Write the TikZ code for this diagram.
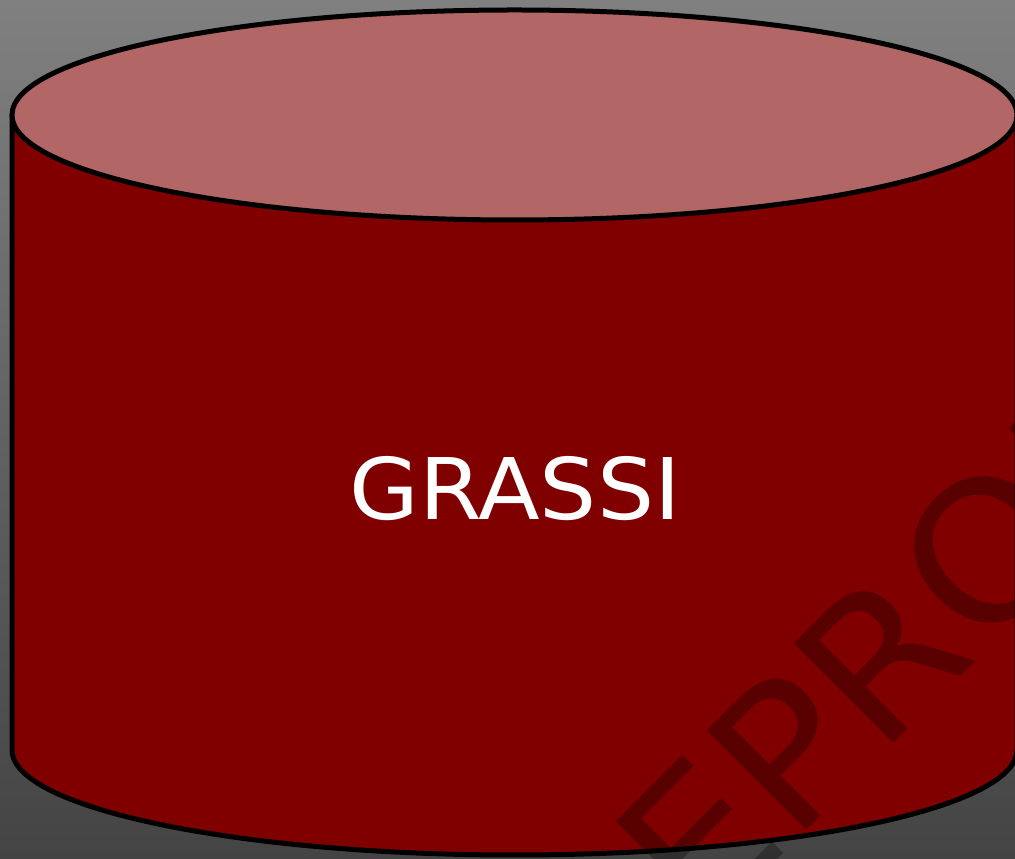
\documentclass[tikz,border=0pt]{standalone}
\usepackage{fontspec}
\newfontfamily\dejavuwide[FakeStretch=1.06]{DejaVu Sans}
\definecolor{bgtop}{RGB}{128,128,128}
\definecolor{bgbot}{RGB}{68,68,68}
\definecolor{sidecol}{RGB}{128,0,0}
\definecolor{topcol}{RGB}{179,102,102}
\tikzset{
  cylside/.style={fill=sidecol, draw=black, line width=5pt, line join=round},
  cyltop/.style={fill=topcol, draw=black, line width=5pt},
  label/.style={text=white, inner sep=0pt, font=\dejavuwide\fontsize{85}{100}\selectfont},
  watermark/.style={text=black, text opacity=0.3, inner sep=0pt, rotate=45,
    font=\dejavuwide\fontsize{193}{230}\selectfont}
}
\begin{document}
\begin{tikzpicture}[x=1pt,y=1pt]
\useasboundingbox (0,0) rectangle (1015,859);
\shade[top color=bgtop, bottom color=bgbot] (0,0) rectangle (1015,859);
% cylinder body
\path[cylside] (12,744) -- (12,109)
  arc[start angle=180, end angle=360, x radius=502.5pt, y radius=105pt]
  -- (1017,744) -- cycle;
% top ellipse
\path[cyltop] (514.5,744) ellipse[x radius=502.5pt, y radius=105pt];
\node[label, anchor=base] (grassi) at (515,339) {GRASSI};
\node[watermark, anchor=base west] (wm) at (600.5,-177.5) {REPRODUCTION};
\end{tikzpicture}
\end{document}
